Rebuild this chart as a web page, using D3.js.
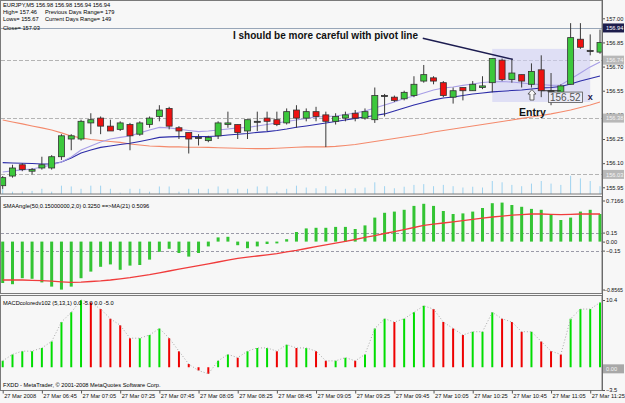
<!DOCTYPE html>
<html>
<head>
<meta charset="utf-8">
<title>EURJPY M5</title>
<script src="https://cdnjs.cloudflare.com/ajax/libs/d3/7.8.5/d3.min.js"></script>
<style>
  body { margin: 0; background: #f7f7f7; }
  svg text { font-family: "Liberation Sans", Arial, sans-serif; }
</style>
</head>
<body>
<div id="chart"></div>
<script>
// EURJPY M5, 27 Mar 2008, bars 06:25 .. 11:30
var opens  = [155.96,156.02,156.09,156.05,156.07,156.07,156.14,156.25,156.25,156.35,
              156.38,156.33,156.31,156.34,156.28,156.34,156.39,156.44,156.32,156.29,
              156.26,156.24,156.27,156.34,156.34,156.30,156.36,156.38,156.37,156.35,
              156.43,156.38,156.42,156.40,156.36,156.38,156.41,156.38,156.37,156.52,
              156.51,156.50,156.52,156.61,156.63,156.60,156.51,156.57,156.55,156.57,
              156.60,156.74,156.62,156.65,156.59,156.68,156.55,156.54,156.59,156.87,
              156.80,156.79];
var highs  = [156.02,156.09,156.10,156.07,156.14,156.15,156.28,156.28,156.37,156.41,
              156.39,156.37,156.36,156.35,156.36,156.39,156.46,156.45,156.33,156.29,
              156.28,156.27,156.36,156.42,156.34,156.37,156.42,156.42,156.42,156.44,
              156.46,156.44,156.45,156.42,156.41,156.42,156.43,156.44,156.57,156.53,
              156.52,156.55,156.64,156.71,156.64,156.61,156.57,156.57,156.61,156.64,
              156.75,156.75,156.75,156.65,156.72,156.77,156.66,156.59,156.97,156.97,
              156.90,156.93];
var lows   = [155.94,156.01,156.05,156.03,156.06,156.06,156.12,156.18,156.24,156.28,
              156.28,156.30,156.30,156.18,156.27,156.32,156.36,156.31,156.25,156.16,
              156.21,156.23,156.25,156.32,156.25,156.25,156.30,156.30,156.33,156.34,
              156.32,156.36,156.36,156.20,156.34,156.36,156.36,156.37,156.35,156.39,
              156.48,156.49,156.51,156.60,156.59,156.51,156.47,156.49,156.55,156.56,
              156.54,156.61,156.60,156.57,156.57,156.51,156.46,156.52,156.59,156.81,
              156.77,156.78];
var closes = [156.01,156.07,156.06,156.06,156.09,156.14,156.27,156.27,156.36,156.37,
              156.33,156.30,156.35,156.27,156.35,156.38,156.43,156.33,156.30,156.25,
              156.26,156.26,156.35,156.35,156.29,156.37,156.36,156.36,156.34,156.42,
              156.38,156.42,156.39,156.36,156.39,156.40,156.38,156.42,156.52,156.52,
              156.49,156.54,156.59,156.65,156.61,156.52,156.55,156.55,156.59,156.58,
              156.75,156.62,156.66,156.61,156.67,156.55,156.55,156.58,156.88,156.82,
              156.80,156.85];
var volumes = [20,9,9,12,20,9,32,29,20,32, 32,20,5,20,20,9,29,29,9,20,
               20,20,29,20,20,20,29,29,9,20, 32,25,22,30,18,20,22,25,45,30,
               22,28,35,38,30,35,30,25,28,25, 50,45,35,30,40,50,40,35,70,60,
               50,30];

// moving averages on the price chart
var maFast = [156.045,156.052,156.058,156.064,156.076,156.089,156.107,156.138,156.182,156.207,
              156.232,156.250,156.260,156.269,156.288,156.306,156.322,156.319,156.311,156.303,
              156.296,156.300,156.306,156.312,156.319,156.322,156.331,156.340,156.350,156.359,
              156.368,156.378,156.387,156.390,156.393,156.402,156.412,156.424,156.443,156.461,
              156.480,156.502,156.517,156.536,156.555,156.567,156.573,156.583,156.592,156.601,
              156.606,156.607,156.604,156.598,156.592,156.589,156.583,156.586,156.623,156.660,
              156.698,156.729];
var maMid  = [156.103,156.101,156.099,156.098,156.095,156.095,156.107,156.132,156.163,156.182,
              156.198,156.207,156.216,156.224,156.235,156.247,156.260,156.263,156.265,156.265,
              156.265,156.266,156.269,156.275,156.280,156.284,156.291,156.296,156.303,156.312,
              156.323,156.331,156.340,156.350,156.359,156.368,156.378,156.387,156.396,156.406,
              156.424,156.443,156.461,156.477,156.493,156.505,156.511,156.520,156.530,156.536,
              156.543,156.547,156.551,156.555,156.561,156.567,156.570,156.576,156.592,156.611,
              156.626,156.642];
var maSlow = [156.368,156.356,156.344,156.331,156.319,156.306,156.288,156.269,156.257,156.247,
              156.241,156.235,156.229,156.219,156.213,156.207,156.204,156.201,156.201,156.199,
              156.199,156.198,156.196,156.194,156.193,156.191,156.190,156.190,156.193,156.196,
              156.199,156.201,156.201,156.201,156.204,156.210,156.216,156.225,156.235,156.244,
              156.253,156.263,156.272,156.281,156.294,156.303,156.312,156.322,156.331,156.340,
              156.350,156.359,156.368,156.378,156.387,156.396,156.406,156.418,156.430,156.446,
              156.461,156.480];

// SMAAngle subwindow
var smaAngle = [-0.69,-0.71,-0.61,-0.62,-0.68,-0.75,-0.80,-0.75,-0.61,-0.50,
                -0.42,-0.38,-0.47,-0.40,-0.39,-0.30,-0.17,-0.12,-0.19,-0.25,
                -0.19,-0.08,0.07,0.08,-0.06,-0.11,-0.08,-0.04,-0.03,0.04,
                0.16,0.22,0.23,0.23,0.245,0.245,0.21,0.27,0.40,0.48,
                0.50,0.53,0.595,0.63,0.595,0.51,0.46,0.47,0.50,0.56,
                0.64,0.65,0.61,0.58,0.545,0.53,0.455,0.36,0.40,0.50,
                0.53,0.46];
var smaAngleMa = [-0.64,-0.64,-0.64,-0.645,-0.65,-0.66,-0.67,-0.68,-0.675,-0.665,
                  -0.655,-0.64,-0.62,-0.60,-0.575,-0.55,-0.52,-0.49,-0.46,-0.43,
                  -0.40,-0.37,-0.34,-0.31,-0.28,-0.26,-0.24,-0.22,-0.20,-0.17,
                  -0.145,-0.115,-0.085,-0.055,-0.025,0.005,0.035,0.07,0.10,0.135,
                  0.165,0.20,0.235,0.27,0.29,0.31,0.33,0.35,0.37,0.39,
                  0.41,0.425,0.44,0.45,0.46,0.46,0.455,0.45,0.455,0.46,
                  0.46,0.46];

// MACDcolored subwindow (signal period 1, so the dotted line follows the bars)
var macd = [1,2,2.5,2.5,3,4,7,8.5,10.4,10,
            9,7.5,6.5,4.5,4.5,5,6,4.5,2.5,0.5,
            -0.5,-1,1,2,1.5,2.5,3,3,2.5,3.5,
            3,3,2.5,1,1,1.5,1,2,6,7.5,
            7,7.5,8.5,9.5,9,7,6,5,5.5,5.5,
            8.5,7.5,7,5.5,5.5,4,2.5,2,7.5,9,
            9,10];

var timeTickBars = [0,4,8,12,16,20,24,28,32,36,40,44,48,52,56,60];
var timeLabels = ["27 Mar 2008","27 Mar 06:45","27 Mar 07:05","27 Mar 07:25","27 Mar 07:45",
                  "27 Mar 08:05","27 Mar 08:25","27 Mar 08:45","27 Mar 09:05","27 Mar 09:25",
                  "27 Mar 09:45","27 Mar 10:05","27 Mar 10:25","27 Mar 10:45","27 Mar 11:05",
                  "27 Mar 11:25"];
var priceTicks = [157.00,156.85,156.70,156.55,156.40,156.25,156.10,155.95];
var pivotLevels = [156.74,156.38,156.03];
var bidPrice = 156.94;
var angleTicks = [0.7166,0.15,0.00,-0.15,-0.8565];
var angleLevels = [0.15,-0.15];
var macdTicks = [10.4,-3.5];

var headerLines = ["EURJPY,M5  156.98 156.98 156.94 156.94", "High= 157.46", "Lows= 155.67", "Close= 157.03"];
var headerRight = ["", "Previous Days Range= 179", "Current Days Range= 149", ""];

var W = 625, H = 403, plotL = 1, plotR = 602;
var mainTop = 0.5, mainBot = 194, p2Top = 196.5, p2Bot = 293.5, p3Top = 295.5, p3Bot = 390.5;
var fs = 5.7;

var svg = d3.select("#chart").append("svg")
  .attr("width", W).attr("height", H).style("display", "block");
svg.append("rect").attr("width", W).attr("height", H).attr("fill", "#f7f7f7");

var x  = d3.scaleLinear().domain([0, 61]).range([2.7, 600]);
var yP = d3.scaleLinear().domain([155.95, 157.00]).range([187.3, 18.3]);
var yV = d3.scaleLinear().domain([0, 100]).range([mainBot, mainBot - 26]);
var yA = d3.scaleLinear().domain([-0.8565, 0.7166]).range([293, 198.6]);
var yM = d3.scaleLinear().domain([-3.5, 10.4]).range([390, 300]);
var bars = d3.range(opens.length);

function clip(id, y0, y1) {
  svg.append("clipPath").attr("id", id).append("rect")
    .attr("x", plotL).attr("y", y0).attr("width", plotR - plotL).attr("height", y1 - y0);
  return svg.append("g").attr("clip-path", "url(#" + id + ")");
}

// ---------- main price window ----------
var main = clip("cm", mainTop, mainBot);

main.selectAll("line.vol").data(bars).join("line")
  .attr("x1", function(i) { return x(i); }).attr("x2", function(i) { return x(i); })
  .attr("y1", yV(0)).attr("y2", function(i) { return yV(volumes[i]); })
  .attr("stroke", "#9fd3f0").attr("stroke-width", 1);

main.selectAll("line.piv").data(pivotLevels).join("line")
  .attr("x1", plotL).attr("x2", plotR)
  .attr("y1", function(d) { return Math.round(yP(d)) + 0.5; })
  .attr("y2", function(d) { return Math.round(yP(d)) + 0.5; })
  .attr("stroke", "#b4b4b4").attr("stroke-dasharray", "4,2");

main.append("line")
  .attr("x1", plotL).attr("x2", plotR)
  .attr("y1", Math.round(yP(bidPrice)) + 0.5).attr("y2", Math.round(yP(bidPrice)) + 0.5)
  .attr("stroke", "#98a6b8");

// trade zone
main.append("rect")
  .attr("x", x(50)).attr("width", x(60) - x(50))
  .attr("y", yP(156.81)).attr("height", yP(156.48) - yP(156.81))
  .attr("fill", "#cfcff3").attr("opacity", 0.6);

var lineGen = d3.line().x(function(d, i) { return x(i); }).y(function(d) { return yP(d); });
main.append("path").attr("d", lineGen(maSlow)).attr("fill", "none").attr("stroke", "#f48a6c").attr("stroke-width", 1.1);
main.append("path").attr("d", lineGen(maMid)).attr("fill", "none").attr("stroke", "#2c2ca8").attr("stroke-width", 1.1);
main.append("path").attr("d", lineGen(maFast)).attr("fill", "none").attr("stroke", "#a79ee6").attr("stroke-width", 1.1);

var candle = main.selectAll("g.candle").data(bars).join("g");
candle.append("line")
  .attr("x1", function(i) { return x(i); }).attr("x2", function(i) { return x(i); })
  .attr("y1", function(i) { return yP(highs[i]); }).attr("y2", function(i) { return yP(lows[i]); })
  .attr("stroke", "#3a3a3a").attr("stroke-width", 1);
candle.append("rect")
  .attr("x", function(i) { return x(i) - 3; }).attr("width", 6)
  .attr("y", function(i) { return yP(Math.max(opens[i], closes[i])); })
  .attr("height", function(i) { return Math.max(1, Math.abs(yP(opens[i]) - yP(closes[i]))); })
  .attr("fill", function(i) {
    if (closes[i] > opens[i]) return "#3cc83c";
    if (closes[i] < opens[i]) return "#ee1111";
    return "#3a3a3a";
  })
  .attr("stroke", "#333").attr("stroke-width", 0.8);

// annotations
main.append("line")
  .attr("x1", x(42.9)).attr("y1", yP(156.876)).attr("x2", x(52.1)).attr("y2", yP(156.745))
  .attr("stroke", "#1c1c50").attr("stroke-width", 1.4);
main.append("text").attr("x", 233).attr("y", 39)
  .attr("font-size", 10).attr("font-weight", "bold").attr("fill", "#111")
  .text("I should be more careful with pivot line");
main.append("text").attr("x", 519).attr("y", 116)
  .attr("font-size", 10.5).attr("font-weight", "bold").attr("fill", "#111")
  .text("Entry");

var entryBar = 54, entryPrice = 156.52;
var ex = x(entryBar) + 0.5, ey = yP(entryPrice);
main.append("path")
  .attr("d", "M" + ex + "," + (ey - 6) + "l4,4.5h-2v6h-4v-6h-2z")
  .attr("fill", "#f7f7f7").attr("stroke", "#444").attr("stroke-width", 0.8);
main.append("line").attr("x1", x(55)).attr("x2", x(57)).attr("y1", yP(156.55)).attr("y2", yP(156.55))
  .attr("stroke", "#333");
main.append("rect").attr("x", ex + 16.5).attr("y", ey - 3.5).attr("width", 34).attr("height", 10.5)
  .attr("fill", "#eaeaf6").attr("stroke", "#555").attr("stroke-width", 0.8);
main.append("text").attr("x", ex + 18).attr("y", ey + 5.3)
  .attr("font-size", 10).attr("fill", "#555").text(d3.format(".2f")(entryPrice));
main.append("text").attr("x", x(60)).attr("y", ey + 4.5).attr("text-anchor", "middle")
  .attr("font-size", 9).attr("font-weight", "bold").attr("fill", "#1c1c50").text("x");

// header
var hdr = svg.append("g").attr("font-size", fs).attr("fill", "#000");
hdr.selectAll("text.l").data(headerLines).join("text")
  .attr("x", 3).attr("y", function(d, i) { return [7, 13.5, 20.5, 30][i]; }).text(function(d) { return d; });
hdr.selectAll("text.r").data(headerRight).join("text")
  .attr("x", 45).attr("y", function(d, i) { return [7, 13.5, 20.5, 30][i]; }).text(function(d) { return d; });

// ---------- SMAAngle window ----------
var p2 = clip("c2", p2Top, p2Bot);
p2.selectAll("line.lvl").data(angleLevels).join("line")
  .attr("x1", plotL).attr("x2", plotR)
  .attr("y1", function(d) { return Math.round(yA(d)) + 0.5; })
  .attr("y2", function(d) { return Math.round(yA(d)) + 0.5; })
  .attr("stroke", "#9a9aa8").attr("stroke-dasharray", "3,2");
p2.selectAll("rect.ab").data(bars).join("rect")
  .attr("x", function(i) { return x(i) - 1.5; }).attr("width", 3)
  .attr("y", function(i) { return Math.min(yA(0), yA(smaAngle[i])); })
  .attr("height", function(i) { return Math.abs(yA(smaAngle[i]) - yA(0)); })
  .attr("fill", "#33c433");
p2.append("path")
  .attr("d", d3.line().x(function(d, i) { return x(i); }).y(function(d) { return yA(d); })(smaAngleMa))
  .attr("fill", "none").attr("stroke", "#f03c3c").attr("stroke-width", 1.3);
svg.append("text").attr("x", 3).attr("y", 207.5).attr("font-size", fs)
  .text("SMAAngle(50,0.15000000,2,0) 0.3250  ==>MA(21) 0.5096");

// ---------- MACD window ----------
var p3 = clip("c3", p3Top, p3Bot);
p3.selectAll("line.mb").data(bars).join("line")
  .attr("x1", function(i) { return x(i); }).attr("x2", function(i) { return x(i); })
  .attr("y1", yM(0)).attr("y2", function(i) { return yM(macd[i]); })
  .attr("stroke", function(i) { return (i === 0 || macd[i] >= macd[i - 1]) ? "#00dd00" : "#ee0000"; })
  .attr("stroke-width", 2);
p3.append("path")
  .attr("d", d3.line().x(function(d, i) { return x(i); }).y(function(d) { return yM(d); })(macd))
  .attr("fill", "none").attr("stroke", "#a8a8a8").attr("stroke-dasharray", "1,2");
svg.append("text").attr("x", 3).attr("y", 304.5).attr("font-size", fs)
  .text("MACDcoloredv102 (5,13,1) 0.0 -5.0 0.0 -5.0");
svg.append("text").attr("x", 3).attr("y", 386.5).attr("font-size", fs)
  .text("FXDD - MetaTrader, \u00a9 2001-2008 MetaQuotes Software Corp.");

// ---------- frames ----------
var frame = svg.append("g").attr("fill", "none").attr("stroke", "#7a7a7a");
[[mainTop, mainBot], [p2Top, p2Bot], [p3Top, p3Bot]].forEach(function(p) {
  frame.append("rect").attr("x", 0.5).attr("y", p[0]).attr("width", plotR - 0.5).attr("height", p[1] - p[0]);
});

// ---------- right axes ----------
var axP = svg.append("g").attr("transform", "translate(" + plotR + ",0)")
  .call(d3.axisRight(yP).tickValues(priceTicks).tickSize(3).tickFormat(d3.format(".2f")));
var axA = svg.append("g").attr("transform", "translate(" + plotR + ",0)")
  .call(d3.axisRight(yA).tickValues(angleTicks).tickSize(3).tickFormat(function(d) {
    return (d === 0.7166 || d === -0.8565) ? d3.format(".4f")(d) : d3.format(".2f")(d);
  }));
var axM = svg.append("g").attr("transform", "translate(" + plotR + ",0)")
  .call(d3.axisRight(yM).tickValues(macdTicks).tickSize(3).tickFormat(d3.format(".1f")));
[axP, axA, axM].forEach(function(a) {
  a.attr("font-size", fs).attr("font-family", null);
  a.select(".domain").remove();
  a.selectAll("line").attr("stroke", "#555");
  a.selectAll("text").attr("x", 4).attr("fill", "#111");
});
axA.selectAll(".tick").filter(function(d) { return d === 0.7166; }).attr("transform", "translate(0,201)");
axA.selectAll(".tick").filter(function(d) { return d === -0.8565; }).attr("transform", "translate(0,290)")
  .select("text").attr("x", 2).attr("font-size", 5.2);

// level boxes on the price scale
function tag(yv, label, bg, fg) {
  var g = svg.append("g").attr("transform", "translate(" + (plotR + 1) + "," + yv + ")");
  g.append("rect").attr("x", 0).attr("y", -4.5).attr("width", 21).attr("height", 9).attr("fill", bg);
  g.append("text").attr("x", 3).attr("y", 2.2).attr("font-size", fs).attr("fill", fg).text(label);
}
pivotLevels.forEach(function(d) { tag(yP(d), d3.format(".2f")(d), "#b8b8b8", "#f4f4f4"); });
tag(yP(bidPrice), d3.format(".2f")(bidPrice), "#1e1e4c", "#ffffff");
tag(yM(0) + 1.5, "0.00", "#a8a8a8", "#f4f4f4");

svg.append("line").attr("x1", plotR + 0.5).attr("x2", plotR + 0.5).attr("y1", 0).attr("y2", p3Bot)
  .attr("stroke", "#6a6a6a");

// ---------- time axis ----------
var axT = svg.append("g").attr("transform", "translate(0," + p3Bot + ")")
  .call(d3.axisBottom(x).tickValues(timeTickBars).tickSize(3)
    .tickFormat(function(d, i) { return timeLabels[i]; }));
axT.attr("font-size", fs).attr("font-family", null);
axT.select(".domain").remove();
axT.selectAll("line").attr("stroke", "#555");
axT.selectAll("text").attr("text-anchor", "start").attr("dx", 1).attr("dy", 0).attr("y", 7.8).attr("fill", "#111");
</script>
</body>
</html>
